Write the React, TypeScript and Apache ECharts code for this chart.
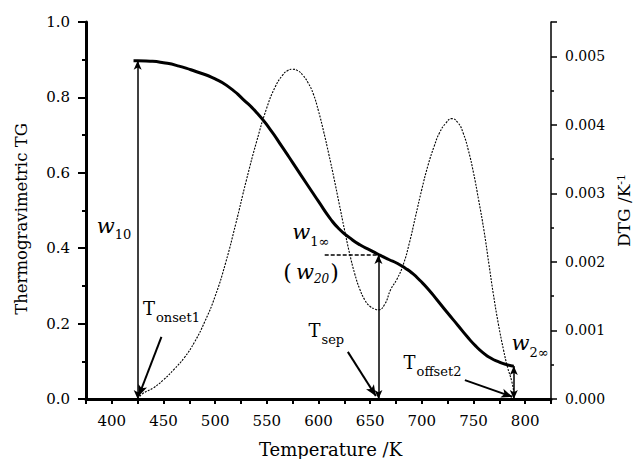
import React, { useEffect, useRef } from 'react';
import * as echarts from 'echarts';

// ---------- data ----------
const tgTemps = [421, 425, 437, 450, 465, 482, 500, 514, 527, 540, 553, 565, 575, 590, 600, 611, 620, 630, 640, 650, 659, 668, 676, 684, 691, 698, 706, 715, 725, 735, 744, 752, 760, 767, 774, 781, 789];
const tgValues = [0.897, 0.897, 0.896, 0.892, 0.883, 0.868, 0.849, 0.826, 0.795, 0.760, 0.716, 0.668, 0.627, 0.565, 0.524, 0.480, 0.451, 0.428, 0.409, 0.395, 0.382, 0.370, 0.360, 0.347, 0.333, 0.315, 0.292, 0.262, 0.228, 0.195, 0.165, 0.141, 0.121, 0.108, 0.099, 0.092, 0.087];

const dtgTemps = [425, 430, 440, 450, 460, 470, 480, 490, 500, 510, 520, 530, 540, 550, 558, 565, 570, 575, 580, 585, 590, 595, 600, 605, 610, 615, 620, 625, 630, 635, 640, 645, 650, 655, 658, 664, 670, 676, 682, 688, 694, 700, 706, 712, 717, 723, 729, 735, 740, 745, 750, 755, 760, 765, 769, 774, 779, 783, 787, 789];
const dtgValues = [0, 0.00008, 0.00016, 0.00028, 0.00043, 0.0006, 0.00083, 0.00113, 0.0015, 0.00198, 0.00256, 0.00318, 0.00375, 0.00425, 0.00455, 0.00472, 0.00479, 0.00481, 0.00479, 0.00472, 0.00461, 0.00445, 0.0042, 0.0039, 0.00357, 0.00322, 0.00285, 0.00248, 0.00213, 0.00183, 0.0016, 0.00144, 0.00135, 0.00131, 0.0013, 0.00138, 0.0016, 0.00175, 0.00196, 0.00228, 0.00267, 0.00306, 0.00341, 0.00369, 0.00388, 0.00402, 0.00409, 0.00403, 0.00388, 0.00363, 0.0033, 0.0029, 0.00247, 0.00196, 0.00155, 0.0011, 0.00072, 0.00046, 0.00026, 0.0001];

// characteristic temperatures / masses
const tOnset1 = 425;
const w10 = 0.897;
const tSep = 658;
const w1inf = 0.382;
const tOffset2 = 789;
const w2inf = 0.0875;

// ---------- style ----------
const FONT = 'DejaVu Serif';

export default function App() {
  const ref = useRef<HTMLDivElement>(null);

  useEffect(() => {
    const chart = echarts.init(ref.current!, null, { renderer: 'svg' });

    const vArrow = (t: number, v: number) => [
      { coord: [t, 0], symbol: 'arrow' },
      { coord: [t, v], symbol: 'arrow' },
    ];
    const pointer = (from: number[], to: number[]) => [
      { coord: from, symbol: 'none', symbolSize: [7, 11], lineStyle: { width: 2, color: '#000', type: 'solid' } },
      { coord: to, symbol: 'arrow', symbolSize: [7, 11], lineStyle: { width: 2, color: '#000', type: 'solid' } },
    ];

    const option: any = {
      animation: false,
      textStyle: { fontFamily: FONT },
      grid: { left: 86, right: 82, top: 22, bottom: 60, containLabel: false, outerBoundsMode: 'none' },
      xAxis: {
        type: 'value',
        min: 375,
        max: 825,
        interval: 25,
        axisLine: { show: true, onZero: false, lineStyle: { color: '#000', width: 3 } },
        axisTick: { show: true, inside: false, length: 5, lineStyle: { color: '#000', width: 2 } },
        axisLabel: {
          formatter: (v: number) => (v % 50 === 0 ? String(v) : ''),
          color: '#000',
          fontSize: 15,
          fontFamily: FONT,
          margin: 14,
        },
        splitLine: { show: false },
        name: 'Temperature /K',
        nameLocation: 'middle',
        nameGap: 41,
        nameTextStyle: { color: '#000', fontSize: 18, fontFamily: FONT, padding: [0, 0, 0, 24] },
      },
      yAxis: [
        {
          type: 'value',
          min: 0,
          max: 1,
          interval: 0.2,
          position: 'left',
          axisLine: { show: true, onZero: false, lineStyle: { color: '#000', width: 3 } },
          axisTick: { show: true, inside: false, length: 8, lineStyle: { color: '#000', width: 2 } },
          minorTick: { show: true, splitNumber: 2, length: 4, lineStyle: { color: '#000', width: 2 } },
          axisLabel: {
            formatter: (v: number) => v.toFixed(1),
            color: '#000',
            fontSize: 15,
            fontFamily: FONT,
            margin: 16,
          },
          splitLine: { show: false },
          minorSplitLine: { show: false },
          name: 'Thermogravimetric TG',
          nameLocation: 'middle',
          nameRotate: 90,
          nameGap: 56,
          nameTextStyle: { color: '#000', fontSize: 16.5, fontFamily: FONT, padding: [0, 17, 0, 0] },
        },
        {
          type: 'value',
          min: 0,
          max: 0.0055,
          interval: 0.001,
          position: 'right',
          axisLine: { show: true, onZero: false, lineStyle: { color: '#000', width: 1.5 } },
          axisTick: { show: true, inside: false, length: 6, lineStyle: { color: '#000', width: 1.5 } },
          minorTick: { show: true, splitNumber: 2, length: 3, lineStyle: { color: '#000', width: 1.5 } },
          axisLabel: {
            formatter: (v: number) => (v <= 0.00501 ? v.toFixed(3) : ''),
            color: '#000',
            fontSize: 14,
            fontFamily: FONT,
            margin: 14,
          },
          splitLine: { show: false },
          minorSplitLine: { show: false },
          name: 'DTG /K{sup|-1}',
          nameLocation: 'middle',
          nameRotate: 90,
          nameGap: 59,
          nameTextStyle: {
            color: '#000',
            fontSize: 17,
            fontFamily: FONT,
            rich: {
              sup: { fontSize: 11, fontFamily: FONT, color: '#000', verticalAlign: 'top', lineHeight: 10 },
            },
          },
        },
      ],
      series: [
        {
          name: 'DTG',
          type: 'line',
          yAxisIndex: 1,
          data: dtgTemps.map((t, i) => [t, dtgValues[i]]),
          showSymbol: false,
          symbol: 'none',
          smooth: 0.5,
          lineStyle: { color: '#000', width: 1.1, type: [2, 1.3] },
          silent: true,
          z: 2,
        },
        {
          name: 'TG',
          type: 'line',
          yAxisIndex: 0,
          data: tgTemps.map((t, i) => [t, tgValues[i]]),
          showSymbol: false,
          symbol: 'none',
          smooth: 0.6,
          lineStyle: { color: '#000', width: 3 },
          silent: true,
          z: 3,
          markLine: {
            silent: true,
            animation: false,
            symbol: ['arrow', 'arrow'],
            symbolSize: [6, 9],
            label: { show: false },
            emphasis: { disabled: true },
            lineStyle: { color: '#000', width: 1.5, type: 'solid' },
            data: [
              vArrow(tOnset1, w10),
              vArrow(tSep, w1inf),
              vArrow(tOffset2, w2inf),
              pointer([448, 0.165], [426, 0.008]),
              pointer([628.4, 0.125], [655.5, 0.008]),
              pointer([741.7, 0.05], [787.5, 0.006]),
              [
                { coord: [606, w1inf], symbol: 'none', lineStyle: { color: '#000', width: 1.5, type: [4, 2] } },
                { coord: [tSep, w1inf], symbol: 'none', lineStyle: { color: '#000', width: 1.5, type: [4, 2] } },
              ],
            ],
          },
        },
      ],
    };

    chart.setOption(option);

    // ---------- annotation labels (anchored in data coordinates) ----------
    type Part = { t: string; size: number; italic?: boolean; dy: number; gap?: number };
    const labels: { at: number[]; parts: Part[] }[] = [
      { at: [385.5, 0.459], parts: [{ t: 'w', size: 21, italic: true, dy: 0 }, { t: '10', size: 13, dy: 9 }] },
      { at: [430.1, 0.24], parts: [{ t: 'T', size: 18, dy: 0, gap: 1 }, { t: 'onset1', size: 13, dy: 9 }] },
      { at: [574.7, 0.442], parts: [{ t: 'w', size: 21, italic: true, dy: 0 }, { t: '1∞', size: 13, dy: 9 }] },
      {
        at: [566, 0.3356],
        parts: [
          { t: '(', size: 22, dy: 0, gap: 4 },
          { t: 'w', size: 21, italic: true, dy: 0 },
          { t: '20', size: 12, italic: true, dy: 7, gap: 1 },
          { t: ')', size: 22, dy: 0 },
        ],
      },
      { at: [590.3, 0.1817], parts: [{ t: 'T', size: 18, dy: 0, gap: 1 }, { t: 'sep', size: 13, dy: 9 }] },
      { at: [682.3, 0.098], parts: [{ t: 'T', size: 18, dy: 0, gap: 1 }, { t: 'offset2', size: 13, dy: 9 }] },
      { at: [786.8, 0.1475], parts: [{ t: 'w', size: 21, italic: true, dy: 0 }, { t: '2∞', size: 13, dy: 9 }] },
    ];

    const ctx = document.createElement('canvas').getContext('2d')!;
    const fontOf = (size: number, italic?: boolean) => `${italic ? 'italic ' : ''}${size}px "${FONT}"`;
    const measure = (t: string, size: number, italic?: boolean) => {
      ctx.font = fontOf(size, italic);
      return ctx.measureText(t).width;
    };

    const graphics = labels.map((lbl) => {
      const [px, py] = chart.convertToPixel({ xAxisIndex: 0, yAxisIndex: 0 }, lbl.at) as number[];
      let x = px;
      const children = lbl.parts.map((p) => {
        const el = {
          type: 'text',
          x,
          y: py + p.dy,
          silent: true,
          style: {
            text: p.t,
            font: fontOf(p.size, p.italic),
            fill: '#000',
            align: 'left',
            verticalAlign: 'middle',
          },
        };
        x += measure(p.t, p.size, p.italic) + (p.gap || 0);
        return el;
      });
      return { type: 'group', children };
    });

    chart.setOption({ graphic: graphics });

    return () => {
      chart.dispose();
    };
  }, []);

  return (
    <div
      ref={ref}
      style={{ position: 'fixed', left: 0, top: 0, width: 633, height: 459, background: '#fff' }}
    />
  );
}
